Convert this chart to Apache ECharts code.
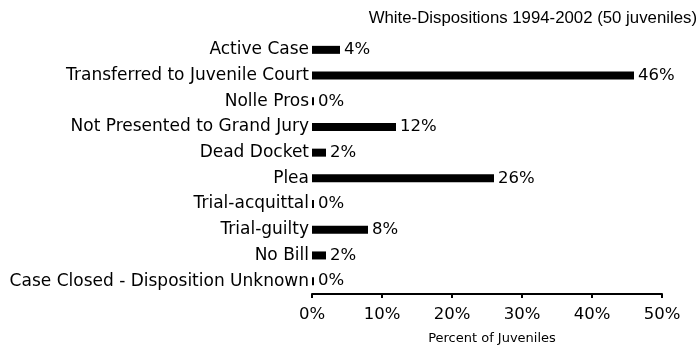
<!DOCTYPE html>
<html>
<head>
<meta charset="utf-8">
<script src="https://cdn.jsdelivr.net/npm/echarts@6/dist/echarts.min.js"></script>
<style>
  html, body { margin: 0; padding: 0; background: #fff; }
  #chart { width: 699px; height: 350px; }
</style>
</head>
<body>
<div id="chart"></div>
<script>
// Disposition categories, listed top to bottom
const categories = [
  'Active Case',
  'Transferred to Juvenile Court',
  'Nolle Pros',
  'Not Presented to Grand Jury',
  'Dead Docket',
  'Plea',
  'Trial-acquittal',
  'Trial-guilty',
  'No Bill',
  'Case Closed - Disposition Unknown'
];
// Percent of juveniles in each disposition
const percents = [4, 46, 0, 12, 2, 26, 0, 8, 2, 0];
// Axis ticks
const xTicks = [0, 10, 20, 30, 40, 50];

const titleFont = 'Liberation Sans, Arial, sans-serif';
const labelFont = 'DejaVu Sans, Verdana, sans-serif';
const chart = echarts.init(document.getElementById('chart'));
chart.setOption({
  animation: false,
  backgroundColor: '#fff',
  title: {
    text: 'White-Dispositions 1994-2002 (50 juveniles)',
    right: 2,
    top: 10,
    padding: 0,
    textStyle: { fontFamily: titleFont, fontSize: 16.8, fontWeight: 'normal', color: '#000' }
  },
  grid: { left: 312, right: 37, top: 37, bottom: 56, containLabel: false },
  xAxis: {
    type: 'value',
    min: xTicks[0],
    max: xTicks[xTicks.length - 1],
    interval: 10,
    name: 'Percent of Juveniles',
    nameLocation: 'middle',
    nameGap: 38,
    nameTextStyle: { fontFamily: labelFont, fontSize: 13, color: '#000', padding: [0, 0, 0, 10] },
    axisLine: { show: true, lineStyle: { color: '#000', width: 2 } },
    axisTick: { show: true, length: 4, lineStyle: { color: '#000', width: 2 } },
    axisLabel: { formatter: '{value}%', fontFamily: labelFont, fontSize: 16.5, color: '#000', margin: 12 },
    splitLine: { show: false }
  },
  yAxis: {
    type: 'category',
    data: categories,
    inverse: true,
    axisLine: { show: false },
    axisTick: { show: false },
    axisLabel: { fontFamily: labelFont, fontSize: 17, color: '#000', margin: 3 }
  },
  series: [{
    type: 'bar',
    data: percents,
    barWidth: 8,
    barMinHeight: 2,
    itemStyle: { color: '#000' },
    label: {
      show: true,
      position: 'right',
      distance: 4,
      formatter: '{c}%',
      fontFamily: labelFont,
      fontSize: 16.5,
      color: '#000'
    }
  }]
});
</script>
</body>
</html>
